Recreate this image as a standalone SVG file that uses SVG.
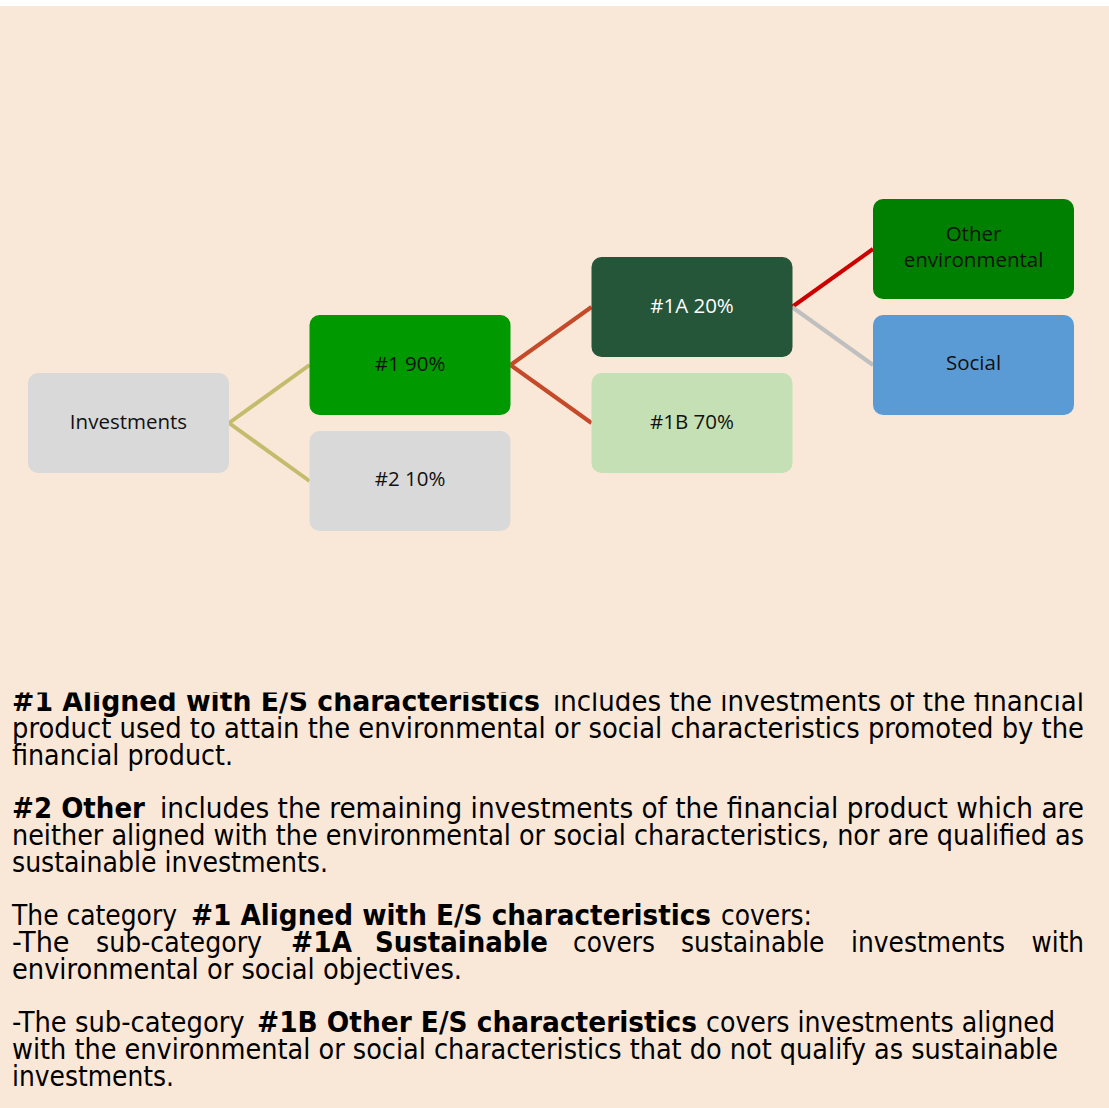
<svg xmlns="http://www.w3.org/2000/svg" width="1109" height="1108" viewBox="0 0 1109 1108">
  <style>
    .node-label { font-family: "Open Sans", "Noto Sans", "Liberation Sans", sans-serif; font-size: 20.5px; text-anchor: middle; fill: #111111; }
    .body { font-family: "DejaVu Sans Condensed", "DejaVu Sans", sans-serif; font-stretch: condensed; font-size: 28px; fill: #000000; }
    .b { font-weight: bold; }
    .conn { fill: none; stroke-width: 4; stroke-linecap: butt; }
  </style>
  <defs>
    <clipPath id="textClip">
      <rect x="0" y="692.5" width="1109" height="416"/>
    </clipPath>
  </defs>
  <rect x="0" y="0" width="1109" height="1108" fill="#ffffff"/>
  <rect x="0" y="6" width="1109" height="1102" fill="#F9E8D7"/>

  <g id="connectors">
    <path class="conn" stroke="#C4BC6C" d="M229,423 L309.5,365 M229,423 L309.5,481"/>
    <path class="conn" stroke="#C54A2A" d="M510.5,365 L591.5,307 M510.5,365 L591.5,423"/>
    <path class="conn" stroke="#CC0000" d="M792,307 L873,249"/>
    <path class="conn" stroke="#BFBFBF" d="M792,307 L873,365"/>
  </g>

  <g id="node-investments">
    <rect x="28" y="373" width="201" height="100" rx="10" fill="#D9D9D9"/>
    <text class="node-label" x="128.5" y="428.5">Investments</text>
  </g>
  <g id="node-1">
    <rect x="309.5" y="315" width="201" height="100" rx="10" fill="#009900"/>
    <text class="node-label" x="410" y="370.5">#1 90%</text>
  </g>
  <g id="node-2">
    <rect x="309.5" y="431" width="201" height="100" rx="10" fill="#D9D9D9"/>
    <text class="node-label" x="410" y="486">#2 10%</text>
  </g>
  <g id="node-1a">
    <rect x="591.5" y="257" width="201" height="100" rx="10" fill="#25563A"/>
    <text class="node-label" x="692" y="313" fill="#ffffff" style="fill:#ffffff">#1A 20%</text>
  </g>
  <g id="node-1b">
    <rect x="591.5" y="373" width="201" height="100" rx="10" fill="#C5E0B4"/>
    <text class="node-label" x="692" y="429">#1B 70%</text>
  </g>
  <g id="node-other-env">
    <rect x="873" y="199" width="201" height="100" rx="10" fill="#008000"/>
    <text class="node-label" x="973.5" y="241">Other</text>
    <text class="node-label" x="973.5" y="266.5">environmental</text>
  </g>
  <g id="node-social">
    <rect x="873" y="315" width="201" height="100" rx="10" fill="#5B9BD5"/>
    <text class="node-label" x="973.5" y="370">Social</text>
  </g>

  <g id="legend" clip-path="url(#textClip)">
    <text class="body" y="711"><tspan class="b" x="12" textLength="528" lengthAdjust="spacingAndGlyphs">#1 Aligned with E/S characteristics</tspan><tspan x="553" textLength="531" lengthAdjust="spacingAndGlyphs">includes the investments of the financial</tspan></text>
    <text class="body" x="12" y="737.75" textLength="1072" lengthAdjust="spacingAndGlyphs">product used to attain the environmental or social characteristics promoted by the</text>
    <text class="body" x="12" y="764.5" textLength="221" lengthAdjust="spacingAndGlyphs">financial product.</text>

    <text class="body" y="818"><tspan class="b" x="12" textLength="133" lengthAdjust="spacingAndGlyphs">#2 Other</tspan><tspan x="160" textLength="924" lengthAdjust="spacingAndGlyphs">includes the remaining investments of the financial product which are</tspan></text>
    <text class="body" x="12" y="844.75" textLength="1072" lengthAdjust="spacingAndGlyphs">neither aligned with the environmental or social characteristics, nor are qualified as</text>
    <text class="body" x="12" y="871.5" textLength="316" lengthAdjust="spacingAndGlyphs">sustainable investments.</text>

    <text class="body" y="925"><tspan x="12" textLength="165" lengthAdjust="spacingAndGlyphs">The category</tspan><tspan class="b" x="191" textLength="520" lengthAdjust="spacingAndGlyphs">#1 Aligned with E/S characteristics</tspan><tspan x="721" textLength="91" lengthAdjust="spacingAndGlyphs">covers:</tspan></text>
    <text class="body" y="951.75"><tspan x="12" textLength="57.6" lengthAdjust="spacingAndGlyphs">-The</tspan><tspan x="96" textLength="166" lengthAdjust="spacingAndGlyphs">sub-category</tspan><tspan class="b" x="291" textLength="61" lengthAdjust="spacingAndGlyphs">#1A</tspan><tspan class="b" x="375" textLength="173" lengthAdjust="spacingAndGlyphs">Sustainable</tspan><tspan x="573" textLength="82" lengthAdjust="spacingAndGlyphs">covers</tspan><tspan x="681" textLength="143.5" lengthAdjust="spacingAndGlyphs">sustainable</tspan><tspan x="851" textLength="154" lengthAdjust="spacingAndGlyphs">investments</tspan><tspan x="1031.6" textLength="52.4" lengthAdjust="spacingAndGlyphs">with</tspan></text>
    <text class="body" x="12" y="978.5" textLength="450" lengthAdjust="spacingAndGlyphs">environmental or social objectives.</text>

    <text class="body" y="1032"><tspan x="12" textLength="232.6" lengthAdjust="spacingAndGlyphs">-The sub-category</tspan><tspan class="b" x="257" textLength="440" lengthAdjust="spacingAndGlyphs">#1B Other E/S characteristics</tspan><tspan x="706" textLength="349" lengthAdjust="spacingAndGlyphs">covers investments aligned</tspan></text>
    <text class="body" x="12" y="1058.75" textLength="1046" lengthAdjust="spacingAndGlyphs">with the environmental or social characteristics that do not qualify as sustainable</text>
    <text class="body" x="12" y="1085.5" textLength="162" lengthAdjust="spacingAndGlyphs">investments.</text>
  </g>
</svg>
